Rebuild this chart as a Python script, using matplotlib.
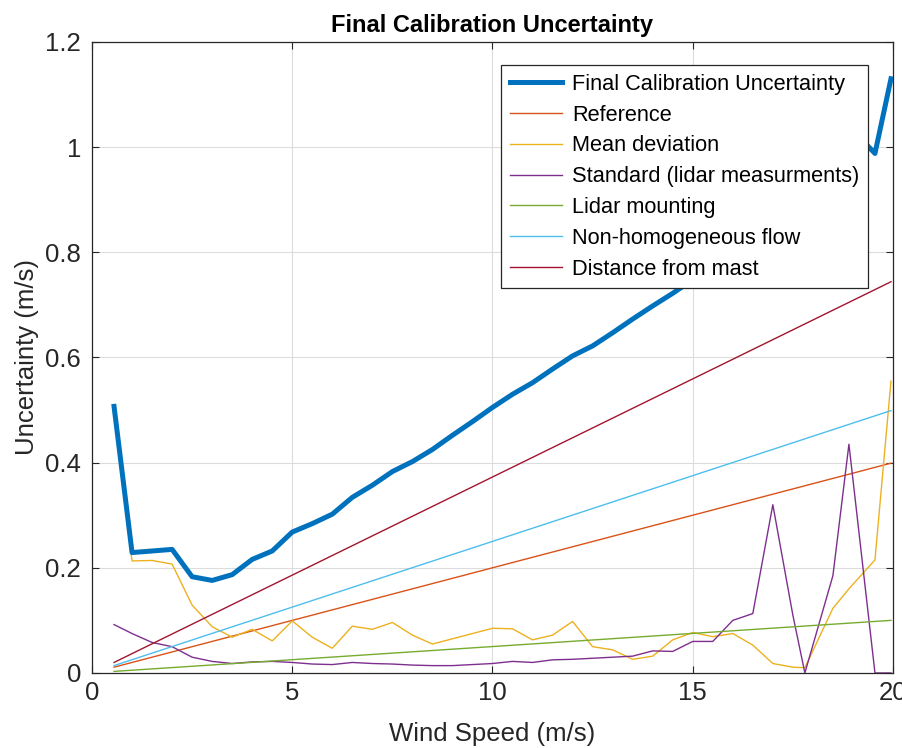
import matplotlib
matplotlib.use("Agg")
import matplotlib.pyplot as plt
from matplotlib.ticker import FormatStrFormatter

plt.rcParams['font.family'] = ['Liberation Sans', 'DejaVu Sans']

# wind speed bins (m/s)
wind = [0.55, 1.0, 1.5, 2.0, 2.5, 3.0, 3.5, 4.0, 4.5, 5.0, 5.5, 6.0, 6.5, 7.0,
        7.5, 8.0, 8.5, 9.0, 9.5, 10.0, 10.5, 11.0, 11.5, 12.0, 12.5, 13.0,
        13.5, 14.0, 14.5, 15.0, 15.5, 16.0, 16.5, 17.0, 17.5, 17.8, 18.5,
        18.9, 19.55, 19.95]

final_unc = [0.507, 0.229, 0.232, 0.235, 0.183, 0.176, 0.187, 0.216, 0.232,
             0.268, 0.284, 0.302, 0.334, 0.357, 0.383, 0.402, 0.425, 0.452,
             0.478, 0.505, 0.530, 0.552, 0.578, 0.603, 0.622, 0.647, 0.673,
             0.698, 0.722, 0.748, 0.772, 0.800, 0.825, 0.899, 0.871, 0.880,
             0.940, 1.040, 0.988, 1.130]

mean_dev = [0.500, 0.213, 0.214, 0.207, 0.129, 0.088, 0.068, 0.083, 0.061,
            0.099, 0.068, 0.047, 0.089, 0.083, 0.096, 0.072, 0.055, 0.065,
            0.075, 0.085, 0.084, 0.063, 0.072, 0.098, 0.050, 0.044, 0.026,
            0.032, 0.063, 0.077, 0.069, 0.075, 0.053, 0.018, 0.011, 0.010,
            0.123, 0.160, 0.215, 0.555]

standard = [0.092, 0.075, 0.058, 0.050, 0.030, 0.022, 0.018, 0.021, 0.022,
            0.020, 0.017, 0.016, 0.020, 0.018, 0.017, 0.015, 0.014, 0.014,
            0.016, 0.018, 0.022, 0.020, 0.025, 0.026, 0.028, 0.030, 0.032,
            0.042, 0.041, 0.060, 0.060, 0.100, 0.113, 0.320, 0.110, 0.000,
            0.185, 0.435, 0.000, 0.000]

# straight-line components, read at first and last bin
line_wind = [0.55, 19.95]
reference = [0.011, 0.399]
mounting = [0.003, 0.100]
non_homog = [0.014, 0.499]
distance = [0.020, 0.744]

fig = plt.figure(figsize=(9.02, 7.48), dpi=100)
ax = fig.add_axes([0.102, 0.1003, 0.888, 0.8436])

ax.plot(wind, final_unc, color='#0072BD', lw=3.6, label='Final Calibration Uncertainty', zorder=3)
ax.plot(line_wind, reference, color='#D95319', lw=1.0, label='Reference')
ax.plot(wind, mean_dev, color='#EDB120', lw=1.0, label='Mean deviation')
ax.plot(wind, standard, color='#7E2F8E', lw=1.0, label='Standard (lidar measurments)')
ax.plot(line_wind, mounting, color='#77AC30', lw=1.0, label='Lidar mounting')
ax.plot(line_wind, non_homog, color='#4DBEEE', lw=1.0, label='Non-homogeneous flow')
ax.plot(line_wind, distance, color='#A2142F', lw=1.0, label='Distance from mast')

ax.set_xlim(0, 20)
ax.set_ylim(0, 1.2)
ax.set_xticks([0, 5, 10, 15, 20])
ax.set_yticks([0, 0.2, 0.4, 0.6, 0.8, 1.0, 1.2])
ax.yaxis.set_major_formatter(FormatStrFormatter('%g'))
ax.grid(True, color='#dcdcdc', lw=0.8)
ax.set_axisbelow(True)
ax.tick_params(direction='in', top=True, right=True, labelsize=18.5,
               colors='#262626', length=5)
ax.tick_params(axis='y', pad=8)
ax.tick_params(axis='x', pad=6)
for s in ax.spines.values():
    s.set_color('#262626')
    s.set_linewidth(0.9)

ax.set_xlabel('Wind Speed (m/s)', fontsize=18.5, color='#262626', labelpad=12)
ax.set_ylabel('Uncertainty (m/s)', fontsize=18.5, color='#262626', labelpad=4)
ax.set_title('Final Calibration Uncertainty', fontsize=17, fontweight='bold', pad=7)

leg = ax.legend(loc='upper right', bbox_to_anchor=(0.969, 0.9635), borderaxespad=0,
                fontsize=15.7, handlelength=2.4, handletextpad=0.45, labelspacing=0.45,
                fancybox=False, framealpha=1, edgecolor='#262626', borderpad=0.4)
leg.get_frame().set_linewidth(0.9)

fig.savefig('out.png', dpi=100)
